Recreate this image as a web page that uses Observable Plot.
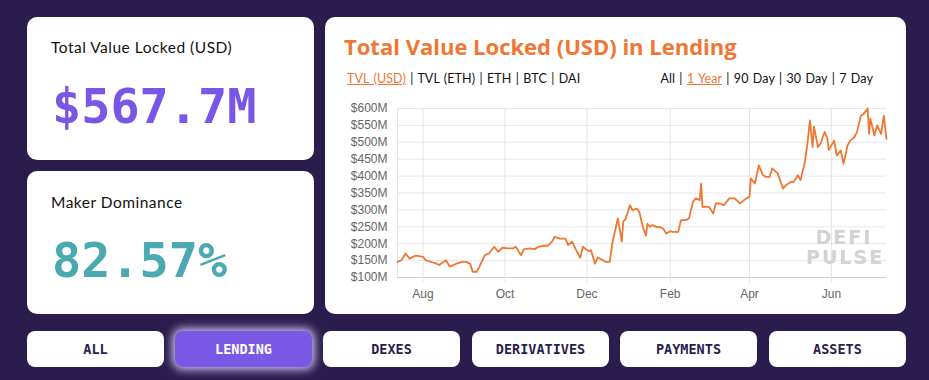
<!DOCTYPE html>
<html><head><meta charset="utf-8">
<script src="https://cdn.jsdelivr.net/npm/d3@7"></script>
<script src="https://cdn.jsdelivr.net/npm/@observablehq/plot@0.6"></script>
<style>
html,body{margin:0;padding:0;width:929px;height:380px;overflow:hidden;background:#2b1c4e;font-family:Lato,"Open Sans",sans-serif;}
.card{position:absolute;background:#fff;border-radius:10px;}
.abs{position:absolute;white-space:nowrap;}
.label{font-size:15.5px;color:#111;letter-spacing:0.5px;}
.big{font-family:"DejaVu Sans Mono",monospace;font-size:48.5px;font-weight:bold;line-height:1;}
.title{font-family:"Open Sans",sans-serif;font-size:22px;font-weight:bold;color:#ef7733;}
.links{font-size:12.5px;color:#111;letter-spacing:0.1px;word-spacing:1px;}
.links .on{color:#ef7733;text-decoration:underline;}
.btn{position:absolute;top:331px;height:36px;width:137px;background:#fff;border-radius:8px;display:flex;align-items:center;justify-content:center;font-family:"DejaVu Sans Mono",monospace;font-weight:bold;font-size:13.5px;color:#2b1c4e;}
.btn.active{background:#7a58e6;color:#fff;box-shadow:0 0 8px 3px rgba(225,215,255,0.85);}
.wm{position:absolute;font-family:"DejaVu Sans",sans-serif;font-weight:bold;color:#d2d2d6;font-size:19px;letter-spacing:2px;text-align:center;line-height:20px;}
</style></head><body>
<div class="card" style="left:27px;top:17px;width:287px;height:143px"></div>
<div class="card" style="left:27px;top:171px;width:287px;height:143px"></div>
<div class="card" style="left:325px;top:17px;width:581px;height:297px"></div>

<div class="abs label" style="left:51px;top:38px">Total Value Locked (USD)</div>
<div class="abs big" style="left:52px;top:82px;color:#7a56e6" id="tvl"></div>
<div class="abs label" style="left:51px;top:193px">Maker Dominance</div>
<div class="abs big" style="left:52px;top:236px;color:#4aa9b1" id="dom"></div>

<div class="abs title" style="left:344px;top:31px">Total Value Locked (USD) in Lending</div>
<div class="abs links" style="left:347px;top:71px" id="leftlinks"></div>
<div class="abs links" style="right:56px;top:71px" id="rightlinks"></div>

<div id="chart" style="position:absolute;left:330px;top:95px;"></div>
<div class="wm" style="left:806px;top:227px;width:76px">DEFI<br>PULSE</div>

<div id="buttons"></div>

<script>
const dates = ["2018-07-13","2018-07-16","2018-07-19","2018-07-22","2018-07-26","2018-07-28","2018-08-01","2018-08-03","2018-08-07","2018-08-11","2018-08-13","2018-08-18","2018-08-21","2018-08-26","2018-08-30","2018-09-02","2018-09-05","2018-09-07","2018-09-10","2018-09-12","2018-09-16","2018-09-19","2018-09-23","2018-09-26","2018-09-29","2018-10-03","2018-10-07","2018-10-09","2018-10-13","2018-10-15","2018-10-19","2018-10-23","2018-10-26","2018-10-30","2018-11-02","2018-11-05","2018-11-07","2018-11-11","2018-11-15","2018-11-17","2018-11-20","2018-11-23","2018-11-26","2018-11-28","2018-12-02","2018-12-04","2018-12-07","2018-12-09","2018-12-12","2018-12-15","2018-12-18","2018-12-20","2018-12-24","2018-12-27","2018-12-28","2018-12-30","2019-01-02","2019-01-04","2019-01-07","2019-01-09","2019-01-12","2019-01-14","2019-01-15","2019-01-17","2019-01-19","2019-01-22","2019-01-24","2019-01-27","2019-01-29","2019-02-01","2019-02-03","2019-02-07","2019-02-09","2019-02-13","2019-02-15","2019-02-18","2019-02-20","2019-02-23","2019-02-24","2019-02-25","2019-03-02","2019-03-05","2019-03-07","2019-03-10","2019-03-13","2019-03-17","2019-03-21","2019-03-25","2019-03-28","2019-04-01","2019-04-02","2019-04-05","2019-04-08","2019-04-11","2019-04-13","2019-04-16","2019-04-18","2019-04-22","2019-04-26","2019-04-28","2019-05-02","2019-05-04","2019-05-07","2019-05-09","2019-05-12","2019-05-14","2019-05-16","2019-05-18","2019-05-19","2019-05-22","2019-05-24","2019-05-27","2019-05-29","2019-05-30","2019-06-03","2019-06-05","2019-06-08","2019-06-10","2019-06-13","2019-06-15","2019-06-18","2019-06-20","2019-06-23","2019-06-25","2019-06-28","2019-06-29","2019-06-30","2019-07-03","2019-07-05","2019-07-08","2019-07-10","2019-07-12"];
const tvlUsdM = [146,151,171,156,164,164,161,151,146,141,137,151,132,141,146,146,141,117,117,132,166,171,191,176,188,186,186,191,166,183,186,184,191,194,194,206,220,215,215,196,206,181,158,191,178,181,141,159,153,146,146,203,275,206,265,275,314,299,304,294,245,224,259,250,255,249,250,244,230,237,235,235,270,270,275,324,334,329,378,309,309,289,319,319,314,334,334,319,329,339,393,378,432,403,398,398,423,408,363,373,383,383,403,388,437,492,565,486,546,486,497,531,511,477,505,461,476,436,491,505,515,530,579,584,600,525,570,520,550,525,579,510];
const yTicks = [100,150,200,250,300,350,400,450,500,550,600];
const xTickDates = ["2018-08-01","2018-10-01","2018-12-01","2019-02-01","2019-04-01","2019-06-01"];
const headlineValue = "$567.7M";
const makerDominance = "82.57%";
const seriesLinks = ["TVL (USD)","TVL (ETH)","ETH","BTC","DAI"];
const rangeLinks = ["All","1 Year","90 Day","30 Day","7 Day"];
const categories = ["ALL","LENDING","DEXES","DERIVATIVES","PAYMENTS","ASSETS"];

document.getElementById("tvl").textContent = headlineValue;
document.getElementById("dom").textContent = makerDominance;
function links(el, arr, active){
  el.innerHTML = arr.map(s => s === active ? `<span class="on">${s}</span>` : `<span>${s}</span>`).join(" | ");
}
links(document.getElementById("leftlinks"), seriesLinks, "TVL (USD)");
links(document.getElementById("rightlinks"), rangeLinks, "1 Year");
const btnLefts = [27,175,323,472,620,769];
document.getElementById("buttons").innerHTML = categories.map((c,i)=>`<div class="btn${c==="LENDING"?" active":""}" style="left:${btnLefts[i]}px">${c}</div>`).join("");

const data = dates.map((d,i)=>({date:new Date(d), value:tvlUsdM[i]}));
const xTicks = xTickDates.map(d=>new Date(d));
const x0 = data[0].date, x1 = data[data.length-1].date;

const chart = Plot.plot({
  width: 565, height: 215,
  marginLeft: 67, marginRight: 9, marginTop: 13, marginBottom: 33,
  style: {fontFamily: "'Liberation Sans', Arial, sans-serif", fontSize: "12px", color: "#666", background: "transparent"},
  x: {type: "utc", domain: [x0, x1]},
  y: {domain: [100, 600]},
  marks: [
    Plot.gridY(yTicks, {stroke: "#e8e8e8", strokeOpacity: 1}),
    Plot.gridX(xTicks, {stroke: "#e4e4e4", strokeOpacity: 1}),
    Plot.ruleX([x0], {stroke: "#e4e4e4"}),
    Plot.ruleY([100], {stroke: "#cfcfcf"}),
    Plot.axisY(yTicks, {tickSize: 0, tickPadding: 10, tickFormat: d => `$${d}M`, fill: "#666", label: null}),
    Plot.axisX(xTicks, {tickSize: 6, tickPadding: 6, stroke: "#e4e4e4", tickFormat: d3.utcFormat("%b"), fill: "#666", label: null}),
    Plot.lineY(data, {x: "date", y: "value", stroke: "#ef7733", strokeWidth: 1.8})
  ]
});
document.getElementById("chart").appendChild(chart);
</script>
</body></html>
